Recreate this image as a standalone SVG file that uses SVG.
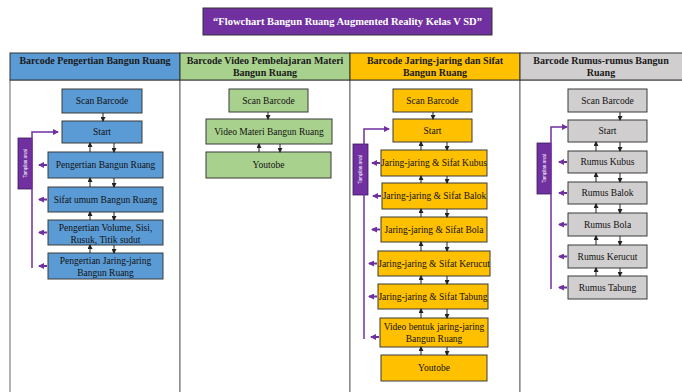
<svg xmlns="http://www.w3.org/2000/svg" width="682" height="392" viewBox="0 0 682 392">
<defs>
<style>
.t{font-family:"Liberation Serif","Times New Roman",serif;font-size:9.5px;fill:#111;text-anchor:middle;dominant-baseline:central}
.h{font-family:"Liberation Serif","Times New Roman",serif;font-size:10px;font-weight:bold;fill:#1a1a1a;text-anchor:middle;dominant-baseline:central}
.lb{font-family:"Liberation Sans",Arial,sans-serif;font-size:4.5px;fill:#fff;text-anchor:middle;dominant-baseline:central}
.b{stroke:#3a3a3a;stroke-width:1}
.blue{fill:#5B9BD5}.green{fill:#A9D18E}.orange{fill:#FFC000}.gray{fill:#D0CECE}
.k{stroke:#222;stroke-width:1;fill:none;marker-end:url(#ak)}
.p{stroke:#7030A0;stroke-width:1.5;fill:none;marker-end:url(#ap)}
.pl{stroke:#7030A0;stroke-width:2;fill:none;marker-end:url(#ap)}
.cell{fill:#fff;stroke:#666;stroke-width:1}
</style>
<marker id="ak" markerWidth="5" markerHeight="5" refX="4" refY="2.5" orient="auto" markerUnits="userSpaceOnUse"><path d="M0,0 L5,2.5 L0,5 z" fill="#222"/></marker>
<marker id="ap" markerWidth="6" markerHeight="6" refX="5" refY="3" orient="auto" markerUnits="userSpaceOnUse"><path d="M0,0 L6,3 L0,6 z" fill="#7030A0"/></marker>
</defs>
<rect width="682" height="392" fill="#fff"/>

<g id="title">
<rect x="203" y="8" width="289" height="27" fill="#7030A0" stroke="#333" stroke-width="1"/>
<text x="347.5" y="21.5" class="h" style="fill:#fff;font-size:10.5px">“Flowchart Bangun Ruang Augmented Reality Kelas V SD”</text>
</g>

<g id="table">
<rect x="10" y="80" width="170" height="320" class="cell"/>
<rect x="180" y="80" width="170" height="320" class="cell"/>
<rect x="350" y="80" width="170" height="320" class="cell"/>
<rect x="520" y="80" width="170" height="320" class="cell"/>
<rect x="10" y="53" width="170" height="27" class="blue" stroke="#333"/>
<rect x="180" y="53" width="170" height="27" class="green" stroke="#333"/>
<rect x="350" y="53" width="170" height="27" class="orange" stroke="#333"/>
<rect x="520" y="53" width="170" height="27" class="gray" stroke="#333"/>
<text x="95" y="60" class="h">Barcode  Pengertian Bangun Ruang</text>
<text x="265" y="60" class="h">Barcode Video Pembelajaran Materi</text>
<text x="265" y="72" class="h">Bangun Ruang</text>
<text x="435" y="60" class="h">Barcode Jaring-jaring dan Sifat</text>
<text x="435" y="72" class="h">Bangun Ruang</text>
<text x="601" y="60" class="h">Barcode Rumus-rumus Bangun</text>
<text x="601" y="72" class="h">Ruang</text>
</g>

<!-- Column 1 -->
<g id="c1-scan"><rect x="62" y="89" width="80" height="24" class="blue b"/><text x="102" y="101" class="t">Scan Barcode</text></g>
<g id="c1-start"><rect x="62" y="121" width="80" height="22" class="blue b"/><text x="102" y="132" class="t">Start</text></g>
<g id="c1-pengertian"><rect x="48" y="152" width="115" height="26" class="blue b"/><text x="105.5" y="165" class="t">Pengertian Bangun Ruang</text></g>
<g id="c1-sifat"><rect x="48" y="187" width="115" height="25" class="blue b"/><text x="105.5" y="199.5" class="t">Sifat umum Bangun Ruang</text></g>
<g id="c1-volume"><rect x="48" y="220" width="115" height="25" class="blue b"/><text x="105.5" y="228" class="t">Pengertian Volume, Sisi,</text><text x="105.5" y="240" class="t">Rusuk, Titik sudut</text></g>
<g id="c1-jaring"><rect x="48" y="253" width="115" height="26" class="blue b"/><text x="105.5" y="261" class="t">Pengertian Jaring-jaring</text><text x="105.5" y="273" class="t">Bangun Ruang</text></g>
<g id="c1-label"><rect x="18" y="138" width="14" height="51" fill="#7030A0" stroke="#3a1a5a" stroke-width="0.8"/><text class="lb" transform="translate(25,163.5) rotate(-90)">Tampilan awal</text></g>

<!-- Column 2 -->
<g id="c2-scan"><rect x="229" y="89" width="79" height="23" class="green b"/><text x="268.5" y="100.5" class="t">Scan Barcode</text></g>
<g id="c2-video"><rect x="206" y="119" width="126" height="25" class="green b"/><text x="269" y="131.5" class="t">Video Materi Bangun Ruang</text></g>
<g id="c2-youtobe"><rect x="206" y="152" width="125" height="26" class="green b"/><text x="268.5" y="165" class="t">Youtobe</text></g>

<!-- Column 3 -->
<g id="c3-scan"><rect x="393" y="89" width="79" height="23" class="orange b"/><text x="432.5" y="100.5" class="t">Scan Barcode</text></g>
<g id="c3-start"><rect x="393" y="119" width="79" height="23" class="orange b"/><text x="432.5" y="130.5" class="t">Start</text></g>
<g id="c3-kubus"><rect x="381" y="150" width="106" height="26" class="orange b"/><text x="434" y="163" class="t">Jaring-jaring &amp; Sifat Kubus</text></g>
<g id="c3-balok"><rect x="382" y="183" width="105" height="26" class="orange b"/><text x="434.5" y="196" class="t">Jaring-jaring &amp; Sifat Balok</text></g>
<g id="c3-bola"><rect x="381" y="217" width="106" height="25" class="orange b"/><text x="434" y="229.5" class="t">Jaring-jaring &amp; Sifat Bola</text></g>
<g id="c3-kerucut"><rect x="378" y="251" width="112" height="25" class="orange b"/><text x="434" y="263.5" class="t">Jaring-jaring &amp; Sifat Kerucut</text></g>
<g id="c3-tabung"><rect x="378" y="284" width="110" height="25" class="orange b"/><text x="433" y="296.5" class="t">Jaring-jaring &amp; Sifat Tabung</text></g>
<g id="c3-video"><rect x="380" y="318" width="108" height="29" class="orange b"/><text x="434" y="327" class="t">Video bentuk jaring-jaring</text><text x="434" y="339" class="t">Bangun Ruang</text></g>
<g id="c3-youtobe"><rect x="381" y="355" width="106" height="26" class="orange b"/><text x="434" y="368" class="t">Youtobe</text></g>
<g id="c3-label"><rect x="353" y="144" width="15" height="51" fill="#7030A0" stroke="#3a1a5a" stroke-width="0.8"/><text class="lb" transform="translate(360.5,169.5) rotate(-90)">Tampilan awal</text></g>

<!-- Column 4 -->
<g id="c4-scan"><rect x="568" y="89" width="79" height="23" class="gray b"/><text x="607.5" y="100.5" class="t">Scan Barcode</text></g>
<g id="c4-start"><rect x="568" y="120" width="79" height="22" class="gray b"/><text x="607.5" y="131" class="t">Start</text></g>
<g id="c4-kubus"><rect x="568" y="151" width="79" height="22" class="gray b"/><text x="607.5" y="162" class="t">Rumus Kubus</text></g>
<g id="c4-balok"><rect x="568" y="182" width="79" height="22" class="gray b"/><text x="607.5" y="193" class="t">Rumus Balok</text></g>
<g id="c4-bola"><rect x="568" y="213" width="79" height="23" class="gray b"/><text x="607.5" y="224.5" class="t">Rumus Bola</text></g>
<g id="c4-kerucut"><rect x="568" y="245" width="79" height="23" class="gray b"/><text x="607.5" y="256.5" class="t">Rumus Kerucut</text></g>
<g id="c4-tabung"><rect x="568" y="276" width="79" height="23" class="gray b"/><text x="607.5" y="287.5" class="t">Rumus Tabung</text></g>
<g id="c4-label"><rect x="537" y="143" width="14" height="51" fill="#7030A0" stroke="#3a1a5a" stroke-width="0.8"/><text class="lb" transform="translate(544,168.5) rotate(-90)">Tampilan awal</text></g>

<g id="connectors">
<!-- col1 -->
<line x1="103" y1="113" x2="103" y2="121" class="k"/>
<line x1="90" y1="152" x2="90" y2="143" class="k"/><line x1="114" y1="143" x2="114" y2="152" class="k"/>
<line x1="90" y1="187" x2="90" y2="178" class="k"/><line x1="114" y1="178" x2="114" y2="187" class="k"/>
<line x1="90" y1="220" x2="90" y2="212" class="k"/><line x1="114" y1="212" x2="114" y2="220" class="k"/>
<line x1="90" y1="253" x2="90" y2="245" class="k"/><line x1="114" y1="245" x2="114" y2="253" class="k"/>
<path d="M32,268 V132 H58" class="p"/>
<line x1="47" y1="165" x2="39" y2="165" class="pl"/>
<line x1="47" y1="199.5" x2="39" y2="199.5" class="pl"/>
<line x1="47" y1="232.5" x2="39" y2="232.5" class="pl"/>
<line x1="47" y1="266" x2="39" y2="266" class="pl"/>
<!-- col2 -->
<line x1="268" y1="112" x2="268" y2="119" class="k"/>
<line x1="259" y1="152" x2="259" y2="144" class="k"/><line x1="280" y1="144" x2="280" y2="152" class="k"/>
<!-- col3 -->
<line x1="433" y1="112" x2="433" y2="119" class="k"/>
<line x1="421" y1="150" x2="421" y2="142" class="k"/><line x1="447" y1="142" x2="447" y2="150" class="k"/>
<line x1="421" y1="183" x2="421" y2="176" class="k"/><line x1="447" y1="176" x2="447" y2="183" class="k"/>
<line x1="421" y1="217" x2="421" y2="209" class="k"/><line x1="447" y1="209" x2="447" y2="217" class="k"/>
<line x1="421" y1="251" x2="421" y2="242" class="k"/><line x1="447" y1="242" x2="447" y2="251" class="k"/>
<line x1="421" y1="284" x2="421" y2="276" class="k"/><line x1="447" y1="276" x2="447" y2="284" class="k"/>
<line x1="421" y1="318" x2="421" y2="309" class="k"/><line x1="447" y1="309" x2="447" y2="318" class="k"/>
<line x1="421" y1="355" x2="421" y2="347" class="k"/><line x1="447" y1="347" x2="447" y2="355" class="k"/>
<path d="M364,339 V129 H389" class="p"/>
<line x1="380" y1="163" x2="372" y2="163" class="pl"/>
<line x1="381" y1="196" x2="373" y2="196" class="pl"/>
<line x1="380" y1="229.5" x2="372" y2="229.5" class="pl"/>
<line x1="377" y1="263.5" x2="369" y2="263.5" class="pl"/>
<line x1="377" y1="296.5" x2="369" y2="296.5" class="pl"/>
<line x1="379" y1="337" x2="371" y2="337" class="pl"/>
<!-- col4 -->
<line x1="620" y1="112" x2="620" y2="120" class="k"/>
<line x1="596" y1="151" x2="596" y2="142" class="k"/><line x1="620" y1="142" x2="620" y2="151" class="k"/>
<line x1="596" y1="182" x2="596" y2="173" class="k"/><line x1="620" y1="173" x2="620" y2="182" class="k"/>
<line x1="596" y1="213" x2="596" y2="204" class="k"/><line x1="620" y1="204" x2="620" y2="213" class="k"/>
<line x1="596" y1="245" x2="596" y2="236" class="k"/><line x1="620" y1="236" x2="620" y2="245" class="k"/>
<line x1="596" y1="276" x2="596" y2="268" class="k"/><line x1="620" y1="268" x2="620" y2="276" class="k"/>
<path d="M551,289 V127 H567" class="p"/>
<line x1="567" y1="162" x2="559" y2="162" class="pl"/>
<line x1="567" y1="193" x2="559" y2="193" class="pl"/>
<line x1="567" y1="224.5" x2="559" y2="224.5" class="pl"/>
<line x1="567" y1="256.5" x2="559" y2="256.5" class="pl"/>
<line x1="567" y1="287.5" x2="559" y2="287.5" class="pl"/>
</g>
</svg>
